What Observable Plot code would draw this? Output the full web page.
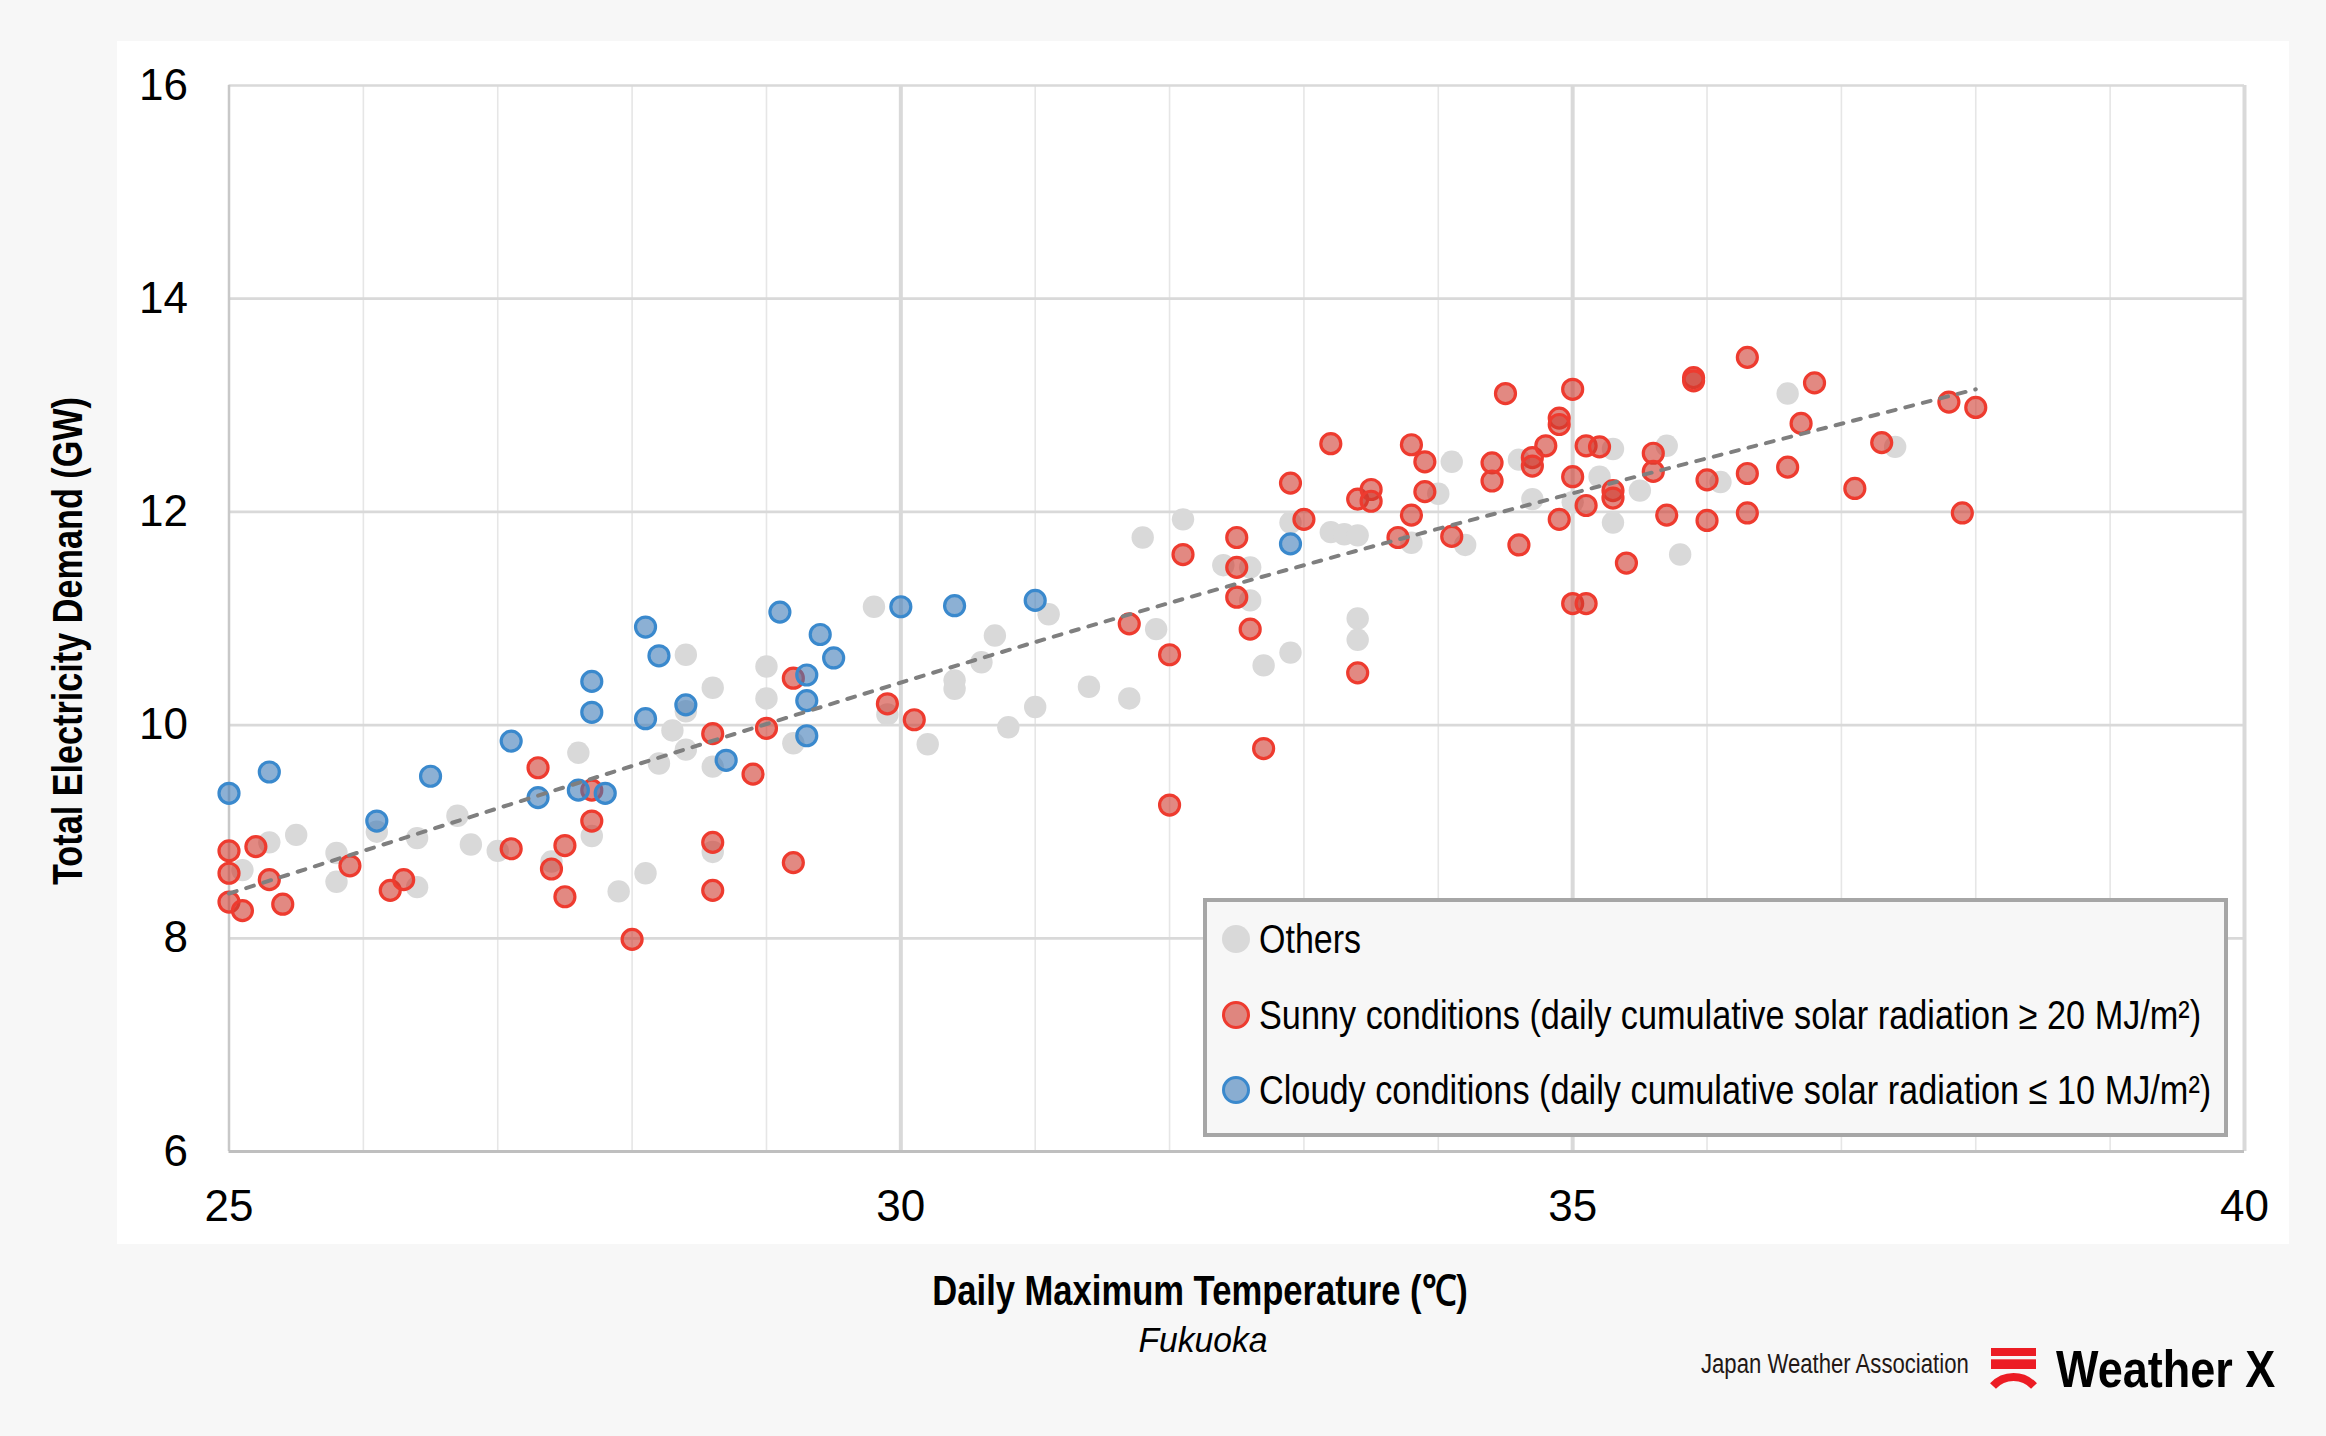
<!DOCTYPE html>
<html>
<head>
<meta charset="utf-8">
<script src="https://cdn.jsdelivr.net/npm/d3@7"></script>
<script src="https://cdn.jsdelivr.net/npm/@observablehq/plot@0.6"></script>
<style>
html,body{margin:0;padding:0;background:#f7f7f7;}
#wrap{position:relative;width:2326px;height:1436px;background:#f7f7f7;overflow:hidden;font-family:'Liberation Sans',Arial,sans-serif;color:#000;}
#panel{position:absolute;left:117px;top:41px;width:2172px;height:1203px;background:#fff;}
#chart{position:absolute;left:0;top:0;}
#chart svg{overflow:visible;}
.t{position:absolute;white-space:nowrap;line-height:1;}
.narrow{font-family:'Liberation Sans Narrow','Liberation Sans',Arial,sans-serif;}
#legend{position:absolute;left:1203px;top:898px;width:1025px;height:239px;box-sizing:border-box;border:4px solid #a6a6a6;background:#f7f7f7;}
.row{position:absolute;left:15px;height:50px;display:flex;align-items:center;}
.mk{width:28px;height:28px;border-radius:50%;box-sizing:border-box;flex:none;}
.lt{margin-left:9px;font-size:40px;line-height:1;white-space:nowrap;transform-origin:left center;}
</style>
</head>
<body>
<div id="wrap">
  <div id="panel"></div>
  <div id="chart"></div>
</div>
<script>
// ---------- data ----------
const othersX = [25.1,25.3,25.5,25.8,25.8,26.1,26.4,26.4,26.7,26.8,27.0,27.4,27.6,27.7,27.9,28.1,28.2,28.3,28.4,28.4,28.4,28.6,28.6,28.6,29.0,29.0,29.2,
  29.8,29.9,30.2,30.4,30.4,30.6,30.7,30.8,31.0,31.1,31.4,31.7,31.8,31.9,32.1,32.4,32.6,32.6,32.7,32.9,32.9,33.2,33.3,33.4,33.4,33.4,33.8,34.0,
  34.1,34.2,34.6,34.7,35.0,35.2,35.3,35.3,35.5,35.7,35.8,36.1,36.6,37.4];
const othersY = [8.64,8.90,8.97,8.80,8.53,9.00,8.94,8.48,9.15,8.88,8.82,8.72,9.74,8.96,8.44,8.61,9.64,9.95,9.77,10.66,10.13,10.35,9.61,8.81,10.55,10.25,9.83,
  11.11,10.10,9.82,10.42,10.34,10.59,10.84,9.98,10.17,11.04,10.36,10.25,11.76,10.90,11.93,11.50,11.48,11.17,10.56,10.68,11.90,11.81,11.79,11.78,11.00,10.80,11.71,12.17,
  12.47,11.69,12.49,12.12,12.09,12.33,12.59,11.90,12.20,12.62,11.60,12.28,13.11,12.61];

const sunnyX = [25.0,25.0,25.0,25.1,25.2,25.3,25.4,25.9,26.2,26.3,27.1,27.3,27.4,27.5,27.5,27.7,27.7,28.0,28.6,28.6,28.6,28.9,29.0,29.2,29.2,
  29.9,30.1,31.7,32.0,32.0,32.1,32.5,32.5,32.5,32.6,32.7,32.9,33.0,33.2,33.4,33.5,33.5,33.4,33.7,33.8,33.9,33.9,33.8,34.1,
  34.4,34.4,34.5,34.6,34.7,34.7,34.8,34.9,34.9,34.9,35.0,35.0,35.0,35.1,35.1,35.2,35.1,35.3,35.3,35.4,35.6,35.6,35.7,35.9,35.9,36.0,36.0,
  36.3,36.3,36.3,36.6,36.7,36.8,37.1,37.3,37.8,37.9,38.0];
const sunnyY = [8.82,8.61,8.34,8.26,8.86,8.55,8.32,8.68,8.45,8.55,8.84,9.60,8.65,8.87,8.39,9.39,9.10,7.99,9.92,8.90,8.45,9.54,9.97,10.44,8.71,
  10.20,10.05,10.95,10.66,9.25,11.60,11.76,11.48,11.20,10.90,9.78,12.27,11.93,12.64,12.12,12.21,12.10,10.49,11.76,12.63,12.47,12.19,11.97,11.77,
  12.46,12.29,13.11,11.69,12.51,12.43,12.62,12.88,12.82,11.93,13.15,12.33,11.14,11.14,12.62,12.61,12.06,12.20,12.13,11.52,12.55,12.38,11.97,13.26,13.23,12.30,11.92,
  13.45,12.36,11.99,12.42,12.83,13.21,12.22,12.65,13.03,11.99,12.98];

const cloudyX = [25.0,25.3,26.1,26.5,27.1,27.3,27.6,27.8,27.7,27.7,28.1,28.2,28.1,28.4,28.7,29.1,29.4,29.5,29.3,29.3,29.3,30.0,30.4,31.0,32.9];
const cloudyY = [9.36,9.56,9.10,9.52,9.85,9.32,9.39,9.36,10.41,10.12,10.92,10.65,10.06,10.19,9.67,11.06,10.85,10.63,10.47,10.23,9.90,11.11,11.12,11.17,11.70];

// trend line
const trendX = [25, 29, 33, 38];
const trendY = [8.42, 10.01, 11.50, 13.15];

const xTicks = [25, 30, 35, 40];
const xMinorGrid = [25,26,27,28,29,30,31,32,33,34,35,36,37,38,39,40];
const xMajorGrid = [30, 35, 40];
const yTicks = [6, 8, 10, 12, 14, 16];
const yGrid = [8, 10, 12, 14, 16];

const legendLabels = ["Others",
  "Sunny conditions (daily cumulative solar radiation \u2265 20 MJ/m\u00B2)",
  "Cloudy conditions (daily cumulative solar radiation \u2264 10 MJ/m\u00B2)"];
const xTitle = "Daily Maximum Temperature (\u2103)";
const xSubtitle = "Fukuoka";
const yTitle = "Total Electricity Demand (GW)";

// ---------- tables ----------
const others = othersX.map((x, i) => ({x, y: othersY[i]}));
const sunny = sunnyX.map((x, i) => ({x, y: sunnyY[i]}));
const cloudy = cloudyX.map((x, i) => ({x, y: cloudyY[i]}));
const trend = trendX.map((x, i) => ({x, y: trendY[i]}));

const RED_STROKE = "#ee3b2f", RED_FILL = "#cf3a2e";
const BLUE_STROKE = "#3a89cd", BLUE_FILL = "#3f7bb7";
const GRAY = "#d9d9d9";

const chart = Plot.plot({
  width: 2326, height: 1244,
  marginLeft: 228.5, marginRight: 82, marginTop: 85, marginBottom: 93,
  style: {background: "transparent", fontFamily: "'Liberation Sans', Arial, sans-serif", fontSize: "44px", color: "#000"},
  x: {domain: [25, 40]},
  y: {domain: [6, 16]},
  marks: [
    Plot.ruleX(xMinorGrid, {stroke: "#e6e6e6", strokeWidth: 1.6}),
    Plot.ruleX(xMajorGrid, {stroke: "#d9d9d9", strokeWidth: 4}),
    Plot.ruleY(yGrid, {stroke: "#d9d9d9", strokeWidth: 2.7}),
    Plot.ruleX([25], {stroke: "#c8c8c8", strokeWidth: 2.5}),
    Plot.ruleY([6], {stroke: "#bfbfbf", strokeWidth: 3}),
    Plot.dot(others, {x: "x", y: "y", r: 11.2, fill: GRAY, stroke: null}),
    Plot.dot(sunny, {x: "x", y: "y", r: 10, fill: RED_FILL, fillOpacity: 0.6, stroke: RED_STROKE, strokeWidth: 3.2}),
    Plot.dot(cloudy, {x: "x", y: "y", r: 10, fill: BLUE_FILL, fillOpacity: 0.6, stroke: BLUE_STROKE, strokeWidth: 3.2}),
    Plot.line(trend, {x: "x", y: "y", curve: "natural", stroke: "#7f7f7f", strokeWidth: 4, strokeDasharray: "8,10", strokeLinecap: "round"}),
    Plot.axisX({ticks: xTicks, tickSize: 0, tickPadding: 38, fontSize: 44, label: null}),
    Plot.axisY({ticks: yTicks, tickSize: 0, tickPadding: 41, fontSize: 44, label: null})
  ]
});
document.getElementById("chart").appendChild(chart);

// ---------- text & legend ----------
const wrap = document.getElementById("wrap");
function addText(txt, cls, css) {
  const el = document.createElement("div");
  el.className = "t " + cls;
  el.textContent = txt;
  Object.assign(el.style, css);
  wrap.appendChild(el);
  return el;
}
function fit(el, target) { return target / el.offsetWidth; }

// y title
const yt = addText(yTitle, "narrow", {left: "68px", top: "641px", fontSize: "42px", fontWeight: "bold"});
yt.style.transform = `translate(-50%,-50%) rotate(-90deg) scaleX(${fit(yt, 488)})`;

// x title
const xt = addText(xTitle, "narrow", {left: "1200px", top: "1270px", fontSize: "42px", fontWeight: "bold"});
xt.style.transform = `translateX(-50%) scaleX(${fit(xt, 535)})`;

// subtitle
const st = addText(xSubtitle, "", {left: "1203px", top: "1322px", fontSize: "35px", fontStyle: "italic"});
st.style.transform = `translateX(-50%) scaleX(${fit(st, 129)})`;

// legend
const legend = document.createElement("div");
legend.id = "legend";
wrap.appendChild(legend);
const legendStyles = [
  {background: GRAY, border: "none"},
  {background: "rgba(207,58,46,0.6)", border: "3.5px solid " + RED_STROKE},
  {background: "rgba(63,123,183,0.6)", border: "3.5px solid " + BLUE_STROKE}
];
const legendTops = [12, 88, 163];
const legendWidths = [102, 942, 952];
legendLabels.forEach((lab, i) => {
  const row = document.createElement("div");
  row.className = "row";
  row.style.top = legendTops[i] + "px";
  const mk = document.createElement("div");
  mk.className = "mk";
  Object.assign(mk.style, legendStyles[i]);
  const tx = document.createElement("div");
  tx.className = "lt narrow";
  tx.textContent = lab;
  row.appendChild(mk); row.appendChild(tx);
  legend.appendChild(row);
  tx.style.transform = `scaleX(${legendWidths[i] / tx.offsetWidth})`;
});

// logo
const jwa = addText("Japan Weather Association", "narrow", {left: "1701px", top: "1351px", fontSize: "27px", color: "#231815", transformOrigin: "left top"});
jwa.style.transform = `scaleX(${fit(jwa, 268)})`;
const ns = "http://www.w3.org/2000/svg";
const icon = document.createElementNS(ns, "svg");
icon.setAttribute("width", "58"); icon.setAttribute("height", "52");
icon.style.position = "absolute"; icon.style.left = "1985px"; icon.style.top = "1344px";
icon.innerHTML = '<rect x="6" y="4" width="45" height="8" fill="#ec1c24"/>' +
  '<rect x="6" y="15.3" width="45" height="9.7" fill="#ec1c24"/>' +
  '<path d="M8 42 A27.8 27.8 0 0 1 49 42" fill="none" stroke="#ec1c24" stroke-width="8"/>';
wrap.appendChild(icon);
const wx = addText("Weather X", "", {left: "2056px", top: "1343px", fontSize: "52px", fontWeight: "bold", color: "#000", transformOrigin: "left top"});
wx.style.transform = `scaleX(${fit(wx, 219)})`;
</script>
</body>
</html>
